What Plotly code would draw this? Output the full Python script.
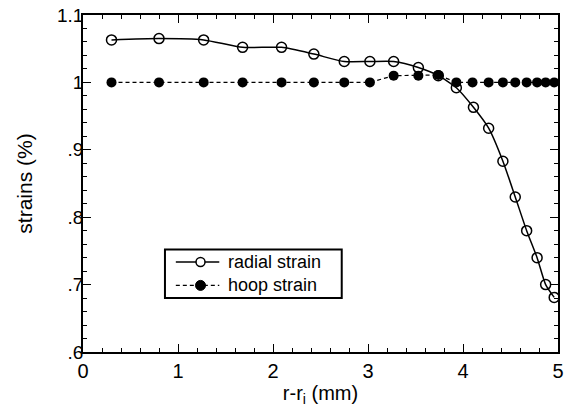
import plotly.graph_objects as go

radial_x = [0.30, 0.80, 1.27, 1.68, 2.09, 2.43, 2.75, 3.02, 3.27, 3.53, 3.74, 3.93, 4.11, 4.27, 4.42, 4.55, 4.67, 4.78, 4.87, 4.96]
radial_y = [1.063, 1.065, 1.063, 1.052, 1.052, 1.042, 1.031, 1.031, 1.031, 1.022, 1.010, 0.992, 0.963, 0.932, 0.883, 0.830, 0.780, 0.740, 0.700, 0.681]
hoop_x = [0.30, 0.80, 1.27, 1.68, 2.09, 2.43, 2.75, 3.02, 3.27, 3.53, 3.74, 3.93, 4.10, 4.27, 4.42, 4.55, 4.67, 4.78, 4.87, 4.96]
hoop_y = [1.000, 1.000, 1.000, 1.000, 1.000, 1.000, 1.000, 1.000, 1.010, 1.010, 1.011, 1.000, 1.000, 1.000, 1.000, 1.000, 1.000, 1.000, 1.000, 1.000]
y_tick_vals = [0.6, 0.7, 0.8, 0.9, 1.0, 1.1]
y_tick_text = [".6", ".7", ".8", ".9", "1", "1.1"]
x_tick_vals = [0, 1, 2, 3, 4, 5]
series_names = ["radial strain", "hoop strain"]

FONT = "Liberation Sans, Arial, sans-serif"
LEG_FONT = 18

# plot area in pixels (for the hand-drawn legend box)
PX0, PX1, PY0, PY1 = 83, 564, 14, 352


def px(x):
    return (x - PX0) / (PX1 - PX0)


def py(y):
    return (PY1 - y) / (PY1 - PY0)


fig = go.Figure()
fig.add_trace(go.Scatter(
    x=radial_x, y=radial_y, name=series_names[0], mode="lines+markers",
    line=dict(color="black", width=1.5, shape="spline", smoothing=0.6),
    marker=dict(symbol="circle-open", size=10, color="black", line=dict(width=1.5)),
    showlegend=False,
))
fig.add_trace(go.Scatter(
    x=hoop_x, y=hoop_y, name=series_names[1], mode="lines+markers",
    line=dict(color="black", width=1.2, dash="4px,3px"),
    marker=dict(symbol="circle", size=10, color="black"),
    showlegend=False,
))

axis_common = dict(
    showline=True, linecolor="black", linewidth=1.5, mirror="allticks",
    ticks="inside", ticklen=8, tickwidth=1.2, tickcolor="black",
    showgrid=False, zeroline=False,
)

fig.update_xaxes(
    range=[0, 5], tickvals=x_tick_vals,
    tickfont=dict(family=FONT, size=20, color="black"),
    minor=dict(dtick=0.2, ticks="inside", ticklen=4, tickcolor="black", tickwidth=1),
    title=dict(text="r-r<sub>i</sub> (mm)", font=dict(family=FONT, size=20, color="black"), standoff=5),
    **axis_common,
)
fig.update_yaxes(
    range=[0.6, 1.1], tickvals=y_tick_vals, ticktext=y_tick_text,
    tickfont=dict(family=FONT, size=19, color="black"),
    minor=dict(dtick=0.02, ticks="inside", ticklen=4, tickcolor="black", tickwidth=1),
    title=dict(text="strains (%)", font=dict(family=FONT, size=21, color="black"), standoff=19),
    ticklabelstandoff=-6,
    **axis_common,
)

# hand-drawn legend box (compact, like the reference)
line_gap = LEG_FONT * 1.3          # plotly's multi-line text spacing
mid = 273.5
rows = [mid - line_gap / 2, mid + line_gap / 2]
box = dict(x0=166, x1=345, y0=mid - line_gap - 1, y1=mid + line_gap + 1)
shapes = [
    dict(type="rect", xref="paper", yref="paper",
         x0=px(box["x0"]), x1=px(box["x1"]), y0=py(box["y1"]), y1=py(box["y0"]),
         line=dict(color="black", width=2), fillcolor="white", layer="above"),
    dict(type="line", xref="paper", yref="paper",
         x0=px(177), x1=px(221), y0=py(rows[0]), y1=py(rows[0]),
         line=dict(color="black", width=1.5)),
    dict(type="line", xref="paper", yref="paper",
         x0=px(177), x1=px(221), y0=py(rows[1]), y1=py(rows[1]),
         line=dict(color="black", width=1.2, dash="4px,3px")),
    dict(type="circle", xref="paper", yref="paper", xsizemode="pixel", ysizemode="pixel",
         xanchor=px(202), yanchor=py(rows[0]), x0=-4.5, x1=4.5, y0=-4.5, y1=4.5,
         line=dict(color="black", width=1.5), fillcolor="white"),
    dict(type="circle", xref="paper", yref="paper", xsizemode="pixel", ysizemode="pixel",
         xanchor=px(202), yanchor=py(rows[1]), x0=-5, x1=5, y0=-5, y1=5,
         line=dict(color="black", width=1), fillcolor="black"),
]
annotations = [
    dict(xref="paper", yref="paper", x=px(228), y=py(mid), text="<br>".join(series_names),
         showarrow=False, align="left", xanchor="left", yanchor="middle",
         font=dict(family=FONT, size=LEG_FONT, color="black"))
]

fig.update_layout(
    width=569, height=420,
    margin=dict(l=PX0, r=569 - PX1, t=PY0, b=420 - PY1),
    paper_bgcolor="white", plot_bgcolor="white",
    showlegend=False,
    shapes=shapes,
    annotations=annotations,
)

fig.write_html("out.html")
